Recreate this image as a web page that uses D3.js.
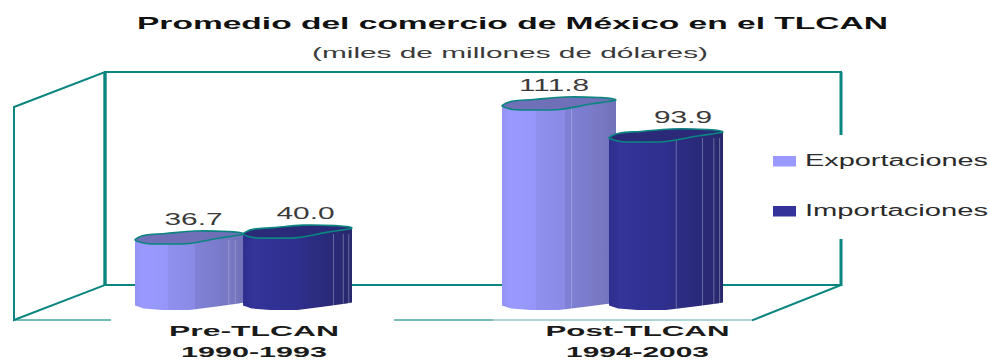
<!DOCTYPE html>
<html lang="es">
<head>
<meta charset="utf-8">
<title>Promedio del comercio de México en el TLCAN</title>
<script src="https://cdn.jsdelivr.net/npm/d3@7"></script>
<style>
  html, body { margin: 0; background: #fff; }
  svg { display: block; font-family: "Liberation Sans", Arial, sans-serif; }
</style>
</head>
<body>
<svg id="chart" width="990" height="360"></svg>
<script>
// Chart values
const categories = ["Pre-TLCAN", "Post-TLCAN"];
const periods = ["1990-1993", "1994-2003"];
const seriesNames = ["Exportaciones", "Importaciones"];
const exportaciones = [36.7, 111.8];
const importaciones = [40.0, 93.9];
const valueLabels = [["36.7", "111.8"], ["40.0", "93.9"]];

const TEAL = "#0b8580";
const svg = d3.select("#chart");
const defs = svg.append("defs");

// Scales
const y = d3.scaleLinear().domain([0, 120]).range([305.5, 91.4]);
const groupX = d3.scalePoint().domain(categories).range([243.5, 612.5]);
const labelX = d3.scalePoint().domain(categories).range([253.5, 637]);
const color = d3.scaleOrdinal().domain(seriesNames).range(["#9999ff", "#333399"]);
const capColor = d3.scaleOrdinal().domain(seriesNames).range(["#7070b8", "#2a2a78"]);
// The taller pair is drawn a little wider and overlaps more
const groupSpan = d3.scaleOrdinal().domain(categories).range([217, 221]);
const barWidth = d3.scaleOrdinal().domain(categories).range([109, 114]);
// Horizontal shift of each value label from its bar's centre
const labelShift = { "Exportaciones": [4, -5], "Importaciones": [8, 17] };
// Facet seams as fractions of the bar width, per series and category
const facetSeams = {
  "Exportaciones": [[0.86, 0.92], [0.61]],
  "Importaciones": [[0.83, 0.92, 0.97], [0.59, 0.82, 0.92, 0.97]]
};

// Cylinder shading, banded from left to right
const gradientStops = {
  "Exportaciones": [[0, "#9494f4"], [0.08, "#9999ff"], [0.3, "#9696fa"], [0.3, "#8f8fee"], [0.55, "#8a8ae6"], [0.55, "#8080d6"], [0.78, "#7b7bcc"], [0.78, "#7a7ac8"], [1, "#7272ba"]],
  "Importaciones": [[0, "#2f2f90"], [0.1, "#333399"], [0.5, "#2f2f8e"], [0.58, "#2d2d86"], [0.8, "#2a2a7a"], [1, "#28286e"]]
};
seriesNames.forEach((name, i) => {
  const g = defs.append("linearGradient").attr("id", "shade" + i)
    .attr("x1", 0).attr("x2", 1).attr("y1", 0).attr("y2", 0);
  gradientStops[name].forEach(s => g.append("stop").attr("offset", s[0]).attr("stop-color", s[1]));
});

// Chart frame: back wall, side wall and floor
const wall = svg.append("g").attr("fill", "none").attr("stroke", TEAL).attr("stroke-linecap", "square");
wall.append("path").attr("stroke-width", 2).attr("d", "M105,72H841");
wall.append("path").attr("stroke-width", 3.4).attr("stroke-linecap", "butt").attr("d", "M105,72V285");
wall.append("path").attr("stroke-width", 2).attr("d", "M105,285H841");
wall.append("path").attr("stroke-width", 3).attr("stroke-linecap", "butt").attr("d", "M841,72V135M841,239V286");
wall.append("path").attr("stroke-width", 2).attr("d", "M105,72L14,107V320L105,285");
wall.append("path").attr("stroke-width", 2).attr("d", "M841,285L753,320");
wall.append("path").attr("stroke-width", 1.4).attr("opacity", 0.75).attr("stroke-linecap", "butt").attr("d", "M14,320H111M394,320H493");
wall.append("path").attr("stroke-width", 1.4).attr("opacity", 0.45).attr("stroke-linecap", "butt").attr("d", "M493,320H753");

// Outline profiles across the bar width: [fraction of width, offset in pixels]
const capUpper = [[0, 0], [0.03, -2.5], [0.1, -5], [0.28, -6.5], [0.55, -9], [0.85, -8.5], [0.96, -7.5], [1, -6]];
const capLower = [[1, -6], [0.93, -4.5], [0.78, -2], [0.5, 3.5], [0.3, 4], [0.1, 3.5], [0.03, 1.5], [0, 0]];
const baseEdge = [[1, -3], [0.95, -2], [0.75, 1], [0.5, 4.5], [0.25, 4.5], [0.08, 3], [0, 0]];

const bars = svg.append("g");

function drawBar(seriesIndex, catIndex, value) {
  const name = seriesNames[seriesIndex];
  const cat = categories[catIndex];
  const w = barWidth(cat);
  const span = groupSpan(cat);
  const left = groupX(cat) - span / 2 + seriesIndex * (span - w);
  const top = y(value);
  const base = y(0);
  const at = (p, yy) => [left + p[0] * w, yy + p[1]];

  const g = bars.append("g");
  const rim = [left + w, top - 6];
  const body = [at([0, 0], top)]
    .concat([at([0, 0], base)])
    .concat(baseEdge.slice().reverse().map(p => at(p, base)).slice(1))
    .concat([rim]);
  g.append("path").attr("d", "M" + body.join("L") + "Z").attr("fill", `url(#shade${seriesIndex})`);

  // Thin highlights where the cylinder facets meet
  g.selectAll("line").data(facetSeams[name][catIndex]).join("line")
    .attr("x1", d => left + d * w).attr("x2", d => left + d * w)
    .attr("y1", top).attr("y2", d => base + (d < 0.7 ? 3 : 0))
    .attr("stroke", "#ffffff").attr("stroke-opacity", seriesIndex === 0 ? 0.22 : 0.3).attr("stroke-width", 1);

  // Elliptical cap on top of the bar
  const cap = capUpper.map(p => at(p, top)).concat(capLower.slice(1, -1).map(p => at(p, top)));
  g.append("path")
    .attr("d", d3.line().curve(d3.curveCatmullRomClosed.alpha(0.5))(cap))
    .attr("fill", capColor(name)).attr("stroke", TEAL).attr("stroke-width", 1.6);

  // Value label above the bar
  svg.append("text")
    .attr("x", left + w / 2 + labelShift[name][catIndex]).attr("y", top - 15)
    .attr("text-anchor", "middle").attr("font-size", 16).attr("fill", "#3a3a3a")
    .attr("textLength", valueLabels[seriesIndex][catIndex].length === 5 ? 70 : 58)
    .attr("lengthAdjust", "spacingAndGlyphs")
    .text(valueLabels[seriesIndex][catIndex]);
}

categories.forEach((c, i) => {
  drawBar(0, i, exportaciones[i]);
  drawBar(1, i, importaciones[i]);
});

// Category axis with the period underneath
const axis = svg.append("g").attr("transform", "translate(0,320)")
  .call(d3.axisBottom(labelX).tickSize(0).tickPadding(0));
axis.select(".domain").remove();
const widths = { name: [170, 184], period: [146, 143] };
axis.selectAll(".tick text").each(function (d, i) {
  const t = d3.select(this).text(null).attr("y", null).attr("dy", null)
    .attr("fill", "#1a1a1a").attr("font-size", 15).attr("font-weight", "bold")
    .attr("font-family", "'Liberation Sans', Arial, sans-serif");
  t.append("tspan").attr("x", 0).attr("y", 16).attr("textLength", widths.name[i])
    .attr("lengthAdjust", "spacingAndGlyphs").text(categories[i]);
  t.append("tspan").attr("x", 0).attr("y", 36.5).attr("textLength", widths.period[i])
    .attr("lengthAdjust", "spacingAndGlyphs").text(periods[i]);
});

// Title block
svg.append("text").attr("x", 512.5).attr("y", 29).attr("text-anchor", "middle")
  .attr("font-size", 16.5).attr("font-weight", "bold").attr("fill", "#111")
  .attr("textLength", 751).attr("lengthAdjust", "spacingAndGlyphs")
  .text("Promedio del comercio de México en el TLCAN");
svg.append("text").attr("x", 510).attr("y", 58).attr("text-anchor", "middle")
  .attr("font-size", 15.5).attr("fill", "#3a3a3a")
  .attr("textLength", 396).attr("lengthAdjust", "spacingAndGlyphs")
  .text("(miles de millones de dólares)");

// Legend
const legendY = d3.scalePoint().domain(seriesNames).range([166, 216]);
const legend = svg.append("g").selectAll("g").data(seriesNames).join("g");
legend.append("rect").attr("x", 773).attr("y", d => legendY(d) - 10).attr("width", 23).attr("height", 10.5)
  .attr("fill", d => color(d));
legend.append("text").attr("x", 805).attr("y", d => legendY(d))
  .attr("font-size", 16).attr("fill", "#2a2a2a")
  .attr("textLength", 183).attr("lengthAdjust", "spacingAndGlyphs")
  .text(d => d);
</script>
</body>
</html>
